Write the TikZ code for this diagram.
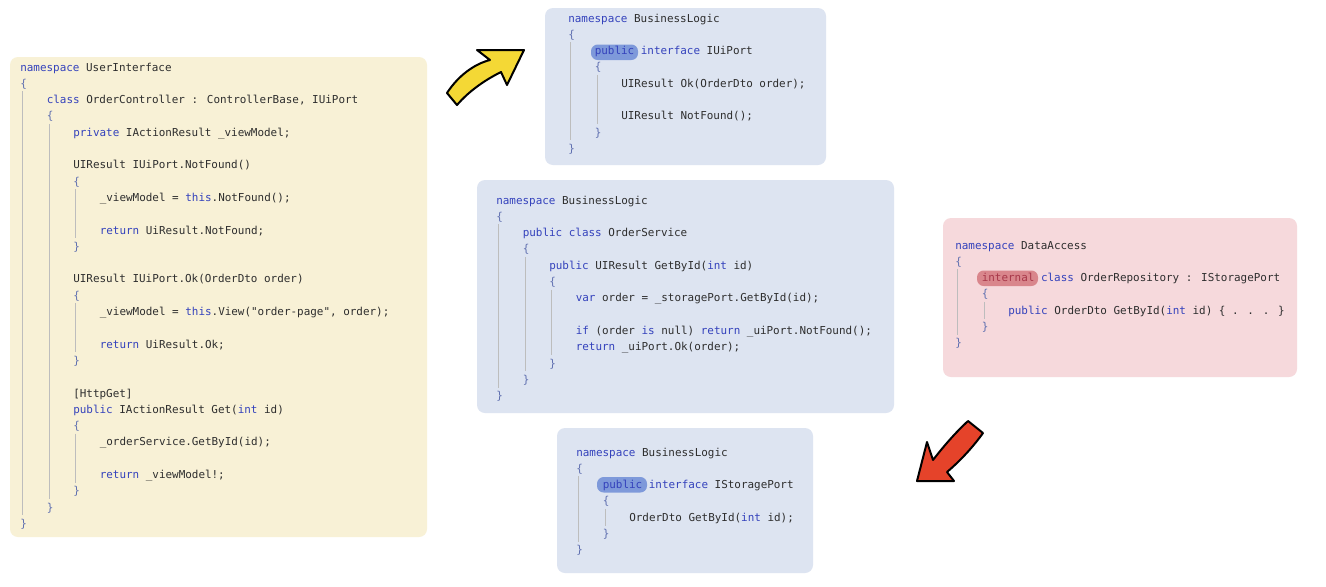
\documentclass[tikz,border=0pt]{standalone}
\usepackage{fontspec}
\usetikzlibrary{fit}
\newfontfamily\codefont{DejaVu Sans Mono}

\definecolor{uiyellow}{HTML}{F8F1D6}
\definecolor{blpanel}{HTML}{DDE4F1}
\definecolor{pkpanel}{HTML}{F6D9DC}
\definecolor{kwblue}{HTML}{3442BC}
\definecolor{codegray}{HTML}{2E2E2E}
\definecolor{bracecol}{HTML}{6070B0}
\definecolor{guidecol}{HTML}{BDBDBD}
\definecolor{hlblue}{HTML}{7E99DA}
\definecolor{hlred}{HTML}{D9868C}
\definecolor{internalcol}{HTML}{A8384A}
\definecolor{arrowyellow}{HTML}{F4D835}
\definecolor{arrowred}{HTML}{E5432A}

% syntax colouring helpers
\newcommand\kw[1]{\textcolor{kwblue}{#1}}
\newcommand\ob{\textcolor{bracecol}{\{}}
\newcommand\cb{\textcolor{bracecol}{\}}}
% one line of code: name, indent column, row, text
\newcommand\cl[4]{\node[codetxt] (#1) at ({\panelx+#2*26.5},{\panely+#3*16.3+4}) {#4};}
% indentation guide: column, row of opening brace, row of closing brace
\newcommand\guide[3]{\draw[guideline] ({\panelx+#1*26.5+2.5},{\panely+#2*16.3+8}) -- ({\panelx+#1*26.5+2.5},{\panely+#3*16.3-8});}

\begin{document}
\begin{tikzpicture}[x=0.75pt,y=-0.75pt,
  panel/.style={inner sep=0pt, draw=none, rounded corners=6pt},
  codetxt/.style={anchor=base west, inner sep=0pt, text=codegray,
    font=\codefont\fontsize{8.2pt}{10pt}\selectfont},
  guideline/.style={draw=guidecol, line width=0.6pt},
  hilite/.style={rounded corners=5pt},
  arrowline/.style={draw=black, line width=1.5pt, line join=round}]

\fill[white] (0,0) rectangle (1326,586);
\useasboundingbox (0,0) rectangle (1326,586);

% panels
\node[panel, fill=uiyellow, fit={(10,57) (427,537)}] (uipanel) {};
\node[panel, fill=blpanel, fit={(545,8) (826,165)}] (uiport) {};
\node[panel, fill=blpanel, fit={(477,180) (894,413)}] (service) {};
\node[panel, fill=blpanel, fit={(557,428) (813,573)}] (storageport) {};
\node[panel, fill=pkpanel, fit={(943,218) (1297,377)}] (repo) {};

% access modifier highlights
\fill[hilite, hlblue] (591,44.5) rectangle (638,60);
\fill[hilite, hlblue] (597,477) rectangle (647,492.5);
\fill[hilite, hlred] (977,270.5) rectangle (1038,286);

% ---- UserInterface ----
\def\panelx{20}\def\panely{67}
\guide{0}{1}{28}
\guide{1}{3}{27}
\guide{2}{7}{11}
\guide{2}{14}{18}
\guide{2}{22}{26}
\cl{u0}{0}{0}{\kw{namespace} UserInterface}
\cl{u1}{0}{1}{\ob}
\cl{u2}{1}{2}{\kw{class} OrderController : ControllerBase, IUiPort}
\cl{u3}{1}{3}{\ob}
\cl{u4}{2}{4}{\kw{private} IActionResult \_viewModel;}
\cl{u6}{2}{6}{UIResult IUiPort.NotFound()}
\cl{u7}{2}{7}{\ob}
\cl{u8}{3}{8}{\_viewModel = \kw{this}.NotFound();}
\cl{u10}{3}{10}{\kw{return} UiResult.NotFound;}
\cl{u11}{2}{11}{\cb}
\cl{u13}{2}{13}{UIResult IUiPort.Ok(OrderDto order)}
\cl{u14}{2}{14}{\ob}
\cl{u15}{3}{15}{\_viewModel = \kw{this}.View("order-page", order);}
\cl{u17}{3}{17}{\kw{return} UiResult.Ok;}
\cl{u18}{2}{18}{\cb}
\cl{u20}{2}{20}{[HttpGet]}
\cl{u21}{2}{21}{\kw{public} IActionResult Get(\kw{int} id)}
\cl{u22}{2}{22}{\ob}
\cl{u23}{3}{23}{\_orderService.GetById(id);}
\cl{u25}{3}{25}{\kw{return} \_viewModel!;}
\cl{u26}{2}{26}{\cb}
\cl{u27}{1}{27}{\cb}
\cl{u28}{0}{28}{\cb}

% ---- BusinessLogic: IUiPort ----
\def\panelx{568}\def\panely{18}
\guide{0}{1}{8}
\guide{1}{3}{7}
\cl{t0}{0}{0}{\kw{namespace} BusinessLogic}
\cl{t1}{0}{1}{\ob}
\cl{t2}{1}{2}{\kw{public} \kw{interface} IUiPort}
\cl{t3}{1}{3}{\ob}
\cl{t4}{2}{4}{UIResult Ok(OrderDto order);}
\cl{t6}{2}{6}{UIResult NotFound();}
\cl{t7}{1}{7}{\cb}
\cl{t8}{0}{8}{\cb}

% ---- BusinessLogic: OrderService ----
\def\panelx{496}\def\panely{200}
\guide{0}{1}{12}
\guide{1}{3}{11}
\guide{2}{5}{10}
\cl{m0}{0}{0}{\kw{namespace} BusinessLogic}
\cl{m1}{0}{1}{\ob}
\cl{m2}{1}{2}{\kw{public} \kw{class} OrderService}
\cl{m3}{1}{3}{\ob}
\cl{m4}{2}{4}{\kw{public} UIResult GetById(\kw{int} id)}
\cl{m5}{2}{5}{\ob}
\cl{m6}{3}{6}{\kw{var} order = \_storagePort.GetById(id);}
\cl{m8}{3}{8}{\kw{if} (order \kw{is} null) \kw{return} \_uiPort.NotFound();}
\cl{m9}{3}{9}{\kw{return} \_uiPort.Ok(order);}
\cl{m10}{2}{10}{\cb}
\cl{m11}{1}{11}{\cb}
\cl{m12}{0}{12}{\cb}

% ---- BusinessLogic: IStoragePort ----
\def\panelx{576}\def\panely{452}
\guide{0}{1}{6}
\guide{1}{3}{5}
\cl{b0}{0}{0}{\kw{namespace} BusinessLogic}
\cl{b1}{0}{1}{\ob}
\cl{b2}{1}{2}{\kw{public} \kw{interface} IStoragePort}
\cl{b3}{1}{3}{\ob}
\cl{b4}{2}{4}{OrderDto GetById(\kw{int} id);}
\cl{b5}{1}{5}{\cb}
\cl{b6}{0}{6}{\cb}

% ---- DataAccess ----
\def\panelx{955}\def\panely{245}
\guide{0}{1}{6}
\guide{1}{3}{5}
\cl{p0}{0}{0}{\kw{namespace} DataAccess}
\cl{p1}{0}{1}{\ob}
\cl{p2}{1}{2}{\textcolor{internalcol}{internal} \kw{class} OrderRepository : IStoragePort}
\cl{p3}{1}{3}{\ob}
\cl{p4}{2}{4}{\kw{public} OrderDto GetById(\kw{int} id) \{ . . . \}}
\cl{p5}{1}{5}{\cb}
\cl{p6}{0}{6}{\cb}

% block arrows
\draw[arrowline, fill=arrowyellow] (447,93) .. controls (458,76) and (474,64) .. (490,60)
  -- (477,50) -- (524,50) -- (507,85) -- (501,72)
  .. controls (485,80) and (469,91) .. (457,105) -- cycle;
\draw[arrowline, fill=arrowred] (968,421) .. controls (955,433) and (943,447) .. (933,460)
  -- (927,442) -- (917,481) -- (954,481) -- (947,472)
  .. controls (960,461) and (973,447) .. (983,433) -- cycle;
\end{tikzpicture}
\end{document}
